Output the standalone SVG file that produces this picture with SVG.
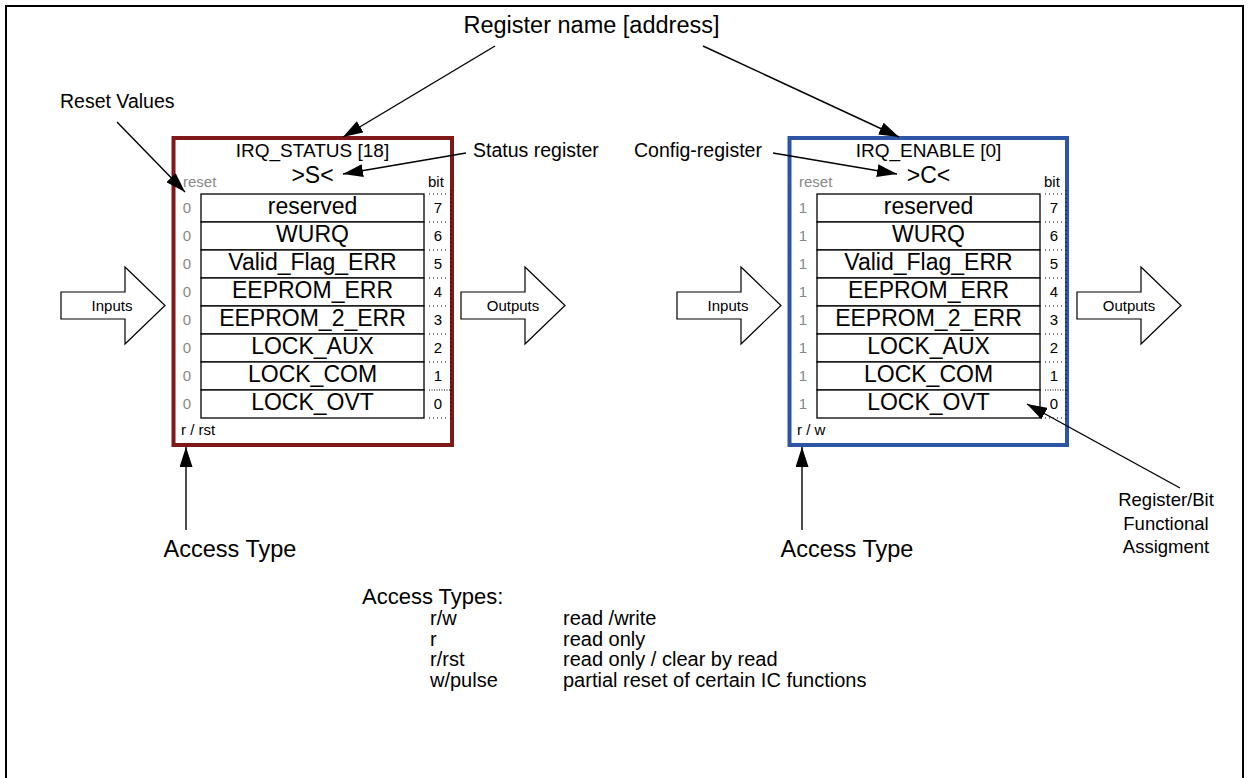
<svg xmlns="http://www.w3.org/2000/svg" width="1249" height="778" viewBox="0 0 1249 778">
<style>
text{font-family:"Liberation Sans",Arial,sans-serif;fill:#000}
.ann{font-size:19.5px}
.big{font-size:23.5px}
.title{font-size:19px;text-anchor:middle}
.sym{font-size:23px;text-anchor:middle}
.small{font-size:15px}
text.gray,.gray text{fill:#888}
.row{font-size:23px;text-anchor:middle}
.cell{fill:#fff;stroke:#000;stroke-width:1.3}
.num{font-size:15px;text-anchor:middle}
.dot{stroke:#000;stroke-width:1;stroke-dasharray:1 3;fill:none}
.dot2{stroke:#000;stroke-width:1;stroke-dasharray:1 1.5;fill:none}
.blk{fill:#fff;stroke:#000;stroke-width:1.2}
.con{stroke:#000;stroke-width:1.4;fill:none}
.lst{font-size:20px}
</style>
<defs>
<marker id="ah" viewBox="0 0 20 13" refX="20" refY="6.5" markerWidth="20" markerHeight="13" markerUnits="userSpaceOnUse" orient="auto">
<path d="M0,0 L20,6.5 L0,13 Z" fill="#000"/>
</marker>
<g id="regbody">
<text x="183" y="187" class="small gray">reset</text>
<text x="428" y="187" class="small">bit</text>
<rect x="201" y="194" width="223" height="28" class="cell"/>
<rect x="201" y="222" width="223" height="28" class="cell"/>
<rect x="201" y="250" width="223" height="28" class="cell"/>
<rect x="201" y="278" width="223" height="28" class="cell"/>
<rect x="201" y="306" width="223" height="28" class="cell"/>
<rect x="201" y="334" width="223" height="28" class="cell"/>
<rect x="201" y="362" width="223" height="28" class="cell"/>
<rect x="201" y="390" width="223" height="28" class="cell"/>
<text x="312.5" y="214" class="row">reserved</text>
<text x="312.5" y="242" class="row">WURQ</text>
<text x="312.5" y="270" class="row">Valid_Flag_ERR</text>
<text x="312.5" y="298" class="row">EEPROM_ERR</text>
<text x="312.5" y="326" class="row">EEPROM_2_ERR</text>
<text x="312.5" y="354" class="row">LOCK_AUX</text>
<text x="312.5" y="382" class="row">LOCK_COM</text>
<text x="312.5" y="410" class="row">LOCK_OVT</text>
<text x="438" y="213" class="num">7</text>
<text x="438" y="241" class="num">6</text>
<text x="438" y="269" class="num">5</text>
<text x="438" y="297" class="num">4</text>
<text x="438" y="325" class="num">3</text>
<text x="438" y="353" class="num">2</text>
<text x="438" y="381" class="num">1</text>
<text x="438" y="409" class="num">0</text>
<path class="dot" d="M429,194H449M429,222H449M429,250H449M429,278H449M429,306H449M429,334H449M429,362H449M429,418H449"/>
<path class="dot2" d="M429,390H452"/>
</g>
</defs>
<rect x="6" y="6" width="1237" height="800" fill="#fff" stroke="#000" stroke-width="2"/>

<g id="register-status">
<rect x="173.5" y="138" width="278.5" height="307" fill="#fff" stroke="#7F1818" stroke-width="4"/>
<text x="312.5" y="157" class="title">IRQ_STATUS [18]</text>
<text x="312.5" y="183" class="sym">&gt;S&lt;</text>
<use href="#regbody"/>
<g class="small gray num">
<text x="187" y="213">0</text><text x="187" y="241">0</text><text x="187" y="269">0</text><text x="187" y="297">0</text>
<text x="187" y="325">0</text><text x="187" y="353">0</text><text x="187" y="381">0</text><text x="187" y="409">0</text>
</g>
<path class="dot" d="M451,190V420"/>
<text x="181" y="435" class="small">r / rst</text>
</g>

<g id="register-enable">
<rect x="789.5" y="138" width="277.5" height="307" fill="#fff" stroke="#2E54A5" stroke-width="4"/>
<text x="928.5" y="157" class="title">IRQ_ENABLE [0]</text>
<text x="928.5" y="183" class="sym">&gt;C&lt;</text>
<use href="#regbody" transform="translate(616,0)"/>
<g class="small gray num">
<text x="803" y="213">1</text><text x="803" y="241">1</text><text x="803" y="269">1</text><text x="803" y="297">1</text>
<text x="803" y="325">1</text><text x="803" y="353">1</text><text x="803" y="381">1</text><text x="803" y="409">1</text>
</g>
<path class="dot" d="M1066,190V420"/>
<text x="797" y="435" class="small">r / w</text>
</g>

<g id="inputs-left">
<path class="blk" d="M61,292H125V267L165,305.5L125,344V319H61Z"/>
<text x="112" y="311" class="small" text-anchor="middle">Inputs</text>
</g>
<g id="outputs-left">
<path class="blk" d="M461,292H525V267L565,305.5L525,344V319H461Z"/>
<text x="513" y="311" class="small" text-anchor="middle">Outputs</text>
</g>
<g id="inputs-right">
<path class="blk" d="M677,292H741V267L781,305.5L741,344V319H677Z"/>
<text x="728" y="311" class="small" text-anchor="middle">Inputs</text>
</g>
<g id="outputs-right">
<path class="blk" d="M1077,292H1141V267L1181,305.5L1141,344V319H1077Z"/>
<text x="1129" y="311" class="small" text-anchor="middle">Outputs</text>
</g>

<g id="label-regname"><text x="591.5" y="33" class="big" text-anchor="middle">Register name [address]</text></g>
<g id="label-reset"><text x="60" y="108" class="ann">Reset Values</text></g>
<g id="label-status"><text x="473" y="157" class="ann">Status register</text></g>
<g id="label-config"><text x="634" y="157" class="ann">Config-register</text></g>
<g id="label-access1"><text x="230" y="557" class="big" text-anchor="middle">Access Type</text></g>
<g id="label-access2"><text x="847" y="557" class="big" text-anchor="middle">Access Type</text></g>
<g id="label-func">
<text x="1166" y="506" class="ann" text-anchor="middle" style="font-size:18.5px">Register/Bit</text>
<text x="1166" y="530" class="ann" text-anchor="middle" style="font-size:18.5px">Functional</text>
<text x="1166" y="553" class="ann" text-anchor="middle" style="font-size:18.5px">Assigment</text>
</g>
<g id="access-types">
<text x="362" y="604" class="lst" style="font-size:22px">Access Types:</text>
<text x="430" y="625" class="lst">r/w</text><text x="563" y="625" class="lst">read /write</text>
<text x="430" y="645.5" class="lst">r</text><text x="563" y="645.5" class="lst">read only</text>
<text x="430" y="666" class="lst">r/rst</text><text x="563" y="666" class="lst">read only / clear by read</text>
<text x="430" y="686.5" class="lst">w/pulse</text><text x="563" y="686.5" class="lst">partial reset of certain IC functions</text>
</g>

<g id="connectors">
<path class="con" marker-end="url(#ah)" d="M495,46L343,137"/>
<path class="con" marker-end="url(#ah)" d="M703,46L899,137"/>
<path class="con" marker-end="url(#ah)" d="M117,122L185,192"/>
<path class="con" marker-end="url(#ah)" d="M466,153L343,174"/>
<path class="con" marker-end="url(#ah)" d="M773,153L897,174"/>
<path class="con" marker-end="url(#ah)" d="M186,530V447"/>
<path class="con" marker-end="url(#ah)" d="M802,530V447"/>
<path class="con" marker-end="url(#ah)" d="M1180,488L1027,404"/>
</g>
</svg>
